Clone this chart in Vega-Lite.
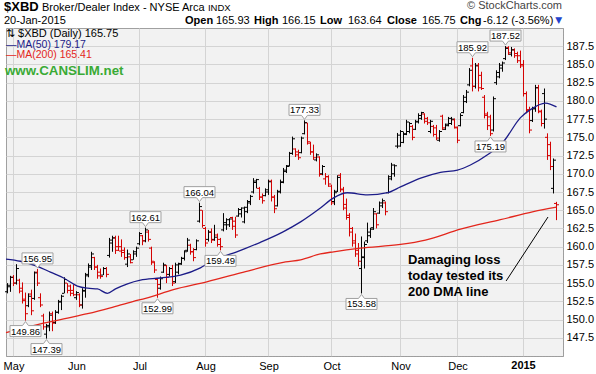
{
"$schema":"https://vega.github.io/schema/vega-lite/v6.json",
"width":557,"height":328,
"autosize":{"type":"none"},
"padding":{"left":6,"top":28,"right":33,"bottom":18},
"background":"#ffffff",
"config":{"view":{"fill":"#f2f2f2","stroke":"#a0a0a0","strokeWidth":1},"font":"Liberation Sans","axis":{"labelOverlap":false}},
"datasets":{
"bars":[
{"i":0,"o":153.8,"h":155.0,"l":153.6,"c":154.7,"d":"u"},
{"i":1,"o":154.5,"h":156.0,"l":153.8,"c":155.8,"d":"u"},
{"i":2,"o":155.8,"h":156.1,"l":154.6,"c":155.0,"d":"d"},
{"i":3,"o":155.0,"h":157.6,"l":154.8,"c":157.0,"d":"u"},
{"i":4,"o":155.4,"h":155.6,"l":153.6,"c":153.9,"d":"d"},
{"i":5,"o":154.3,"h":155.1,"l":152.2,"c":152.6,"d":"d"},
{"i":6,"o":152.8,"h":153.7,"l":149.86,"c":150.8,"d":"d"},
{"i":7,"o":151.9,"h":153.6,"l":151.7,"c":153.2,"d":"u"},
{"i":8,"o":153.5,"h":154.1,"l":150.6,"c":151.2,"d":"d"},
{"i":9,"o":152.9,"h":156.6,"l":152.7,"c":156.4,"d":"u"},
{"i":10,"o":156.5,"h":156.95,"l":154.6,"c":155.0,"d":"d"},
{"i":11,"o":153.0,"h":153.6,"l":151.7,"c":152.0,"d":"d"},
{"i":12,"o":150.5,"h":150.8,"l":148.6,"c":149.0,"d":"d"},
{"i":13,"o":148.0,"h":149.4,"l":147.39,"c":149.2,"d":"u"},
{"i":14,"o":149.0,"h":151.1,"l":148.4,"c":150.6,"d":"u"},
{"i":15,"o":150.8,"h":151.1,"l":148.4,"c":149.5,"d":"d"},
{"i":16,"o":149.6,"h":151.3,"l":149.4,"c":151.0,"d":"u"},
{"i":17,"o":151.0,"h":152.7,"l":150.8,"c":152.5,"d":"u"},
{"i":18,"o":152.4,"h":153.4,"l":151.3,"c":153.2,"d":"u"},
{"i":19,"o":153.6,"h":155.8,"l":153.6,"c":155.5,"d":"u"},
{"i":20,"o":155.0,"h":155.0,"l":153.6,"c":154.0,"d":"d"},
{"i":21,"o":154.6,"h":154.8,"l":153.2,"c":153.6,"d":"d"},
{"i":22,"o":154.0,"h":154.8,"l":153.2,"c":153.4,"d":"d"},
{"i":23,"o":153.0,"h":153.9,"l":152.7,"c":153.7,"d":"u"},
{"i":24,"o":153.4,"h":153.6,"l":151.7,"c":152.0,"d":"d"},
{"i":25,"o":152.0,"h":154.3,"l":151.5,"c":153.9,"d":"u"},
{"i":26,"o":154.0,"h":156.4,"l":153.0,"c":156.2,"d":"u"},
{"i":27,"o":156.0,"h":157.7,"l":155.8,"c":157.4,"d":"u"},
{"i":28,"o":157.2,"h":159.3,"l":156.8,"c":159.0,"d":"u"},
{"i":29,"o":158.5,"h":158.6,"l":156.8,"c":157.2,"d":"d"},
{"i":30,"o":157.2,"h":157.5,"l":155.6,"c":156.0,"d":"d"},
{"i":31,"o":156.5,"h":157.0,"l":155.6,"c":155.9,"d":"d"},
{"i":32,"o":156.1,"h":157.2,"l":156.1,"c":157.0,"d":"u"},
{"i":33,"o":157.0,"h":157.2,"l":155.8,"c":156.2,"d":"d"},
{"i":34,"o":158.8,"h":161.2,"l":158.5,"c":160.9,"d":"u"},
{"i":35,"o":160.5,"h":161.5,"l":159.3,"c":161.2,"d":"u"},
{"i":36,"o":161.2,"h":161.5,"l":159.0,"c":159.5,"d":"d"},
{"i":37,"o":160.0,"h":161.5,"l":159.4,"c":159.4,"d":"d"},
{"i":38,"o":160.0,"h":161.0,"l":158.6,"c":159.2,"d":"d"},
{"i":39,"o":159.5,"h":159.9,"l":158.2,"c":158.5,"d":"d"},
{"i":40,"o":157.6,"h":159.6,"l":157.2,"c":159.0,"d":"u"},
{"i":41,"o":158.6,"h":159.0,"l":157.7,"c":157.8,"d":"d"},
{"i":42,"o":158.2,"h":159.5,"l":158.2,"c":159.3,"d":"u"},
{"i":43,"o":159.0,"h":160.0,"l":158.6,"c":159.8,"d":"u"},
{"i":44,"o":160.4,"h":162.0,"l":160.2,"c":161.8,"d":"u"},
{"i":45,"o":161.5,"h":161.6,"l":160.2,"c":160.8,"d":"d"},
{"i":46,"o":160.8,"h":162.61,"l":160.6,"c":162.3,"d":"u"},
{"i":47,"o":162.0,"h":162.3,"l":160.7,"c":161.0,"d":"d"},
{"i":48,"o":159.8,"h":160.0,"l":157.5,"c":158.0,"d":"d"},
{"i":49,"o":157.8,"h":158.0,"l":156.4,"c":156.8,"d":"d"},
{"i":50,"o":155.5,"h":155.7,"l":152.99,"c":154.8,"d":"d"},
{"i":51,"o":154.3,"h":155.9,"l":154.1,"c":155.6,"d":"u"},
{"i":52,"o":156.5,"h":157.8,"l":156.4,"c":157.5,"d":"u"},
{"i":53,"o":157.4,"h":157.5,"l":155.0,"c":155.8,"d":"d"},
{"i":54,"o":156.2,"h":157.2,"l":155.9,"c":157.0,"d":"u"},
{"i":55,"o":157.0,"h":157.5,"l":154.6,"c":155.0,"d":"d"},
{"i":56,"o":155.2,"h":157.8,"l":155.0,"c":157.5,"d":"u"},
{"i":57,"o":156.5,"h":157.8,"l":156.2,"c":157.7,"d":"u"},
{"i":58,"o":157.6,"h":158.6,"l":157.5,"c":158.4,"d":"u"},
{"i":59,"o":158.4,"h":159.5,"l":158.1,"c":159.3,"d":"u"},
{"i":60,"o":159.5,"h":161.2,"l":159.3,"c":160.9,"d":"u"},
{"i":61,"o":160.2,"h":160.4,"l":158.9,"c":159.3,"d":"d"},
{"i":62,"o":159.3,"h":159.8,"l":158.0,"c":158.5,"d":"d"},
{"i":63,"o":159.6,"h":161.0,"l":159.5,"c":160.8,"d":"u"},
{"i":64,"o":163.5,"h":166.04,"l":163.3,"c":165.5,"d":"u"},
{"i":65,"o":165.0,"h":165.0,"l":162.6,"c":162.9,"d":"d"},
{"i":66,"o":162.5,"h":162.7,"l":160.0,"c":160.5,"d":"d"},
{"i":67,"o":161.0,"h":162.3,"l":160.7,"c":162.0,"d":"u"},
{"i":68,"o":162.0,"h":162.5,"l":160.5,"c":160.9,"d":"d"},
{"i":69,"o":161.0,"h":163.0,"l":160.8,"c":161.3,"d":"u"},
{"i":70,"o":161.6,"h":161.8,"l":160.0,"c":160.3,"d":"d"},
{"i":71,"o":161.0,"h":161.2,"l":159.49,"c":160.0,"d":"d"},
{"i":72,"o":162.3,"h":164.6,"l":162.1,"c":163.3,"d":"u"},
{"i":73,"o":163.0,"h":163.9,"l":162.3,"c":163.7,"d":"u"},
{"i":74,"o":163.0,"h":163.9,"l":162.7,"c":163.8,"d":"u"},
{"i":75,"o":164.0,"h":164.1,"l":162.3,"c":162.8,"d":"d"},
{"i":76,"o":163.5,"h":164.1,"l":161.2,"c":161.6,"d":"d"},
{"i":77,"o":164.2,"h":165.3,"l":164.1,"c":165.1,"d":"u"},
{"i":78,"o":164.5,"h":165.4,"l":164.0,"c":165.3,"d":"u"},
{"i":79,"o":163.4,"h":165.5,"l":163.2,"c":165.4,"d":"u"},
{"i":80,"o":164.8,"h":166.4,"l":164.6,"c":166.2,"d":"u"},
{"i":81,"o":166.0,"h":167.1,"l":165.7,"c":166.9,"d":"u"},
{"i":82,"o":167.5,"h":169.4,"l":167.3,"c":169.0,"d":"u"},
{"i":83,"o":168.8,"h":169.3,"l":168.0,"c":169.2,"d":"u"},
{"i":84,"o":168.0,"h":168.2,"l":166.4,"c":166.8,"d":"d"},
{"i":85,"o":166.8,"h":167.3,"l":165.9,"c":166.3,"d":"d"},
{"i":86,"o":167.0,"h":168.0,"l":166.9,"c":167.8,"d":"u"},
{"i":87,"o":167.5,"h":169.2,"l":167.1,"c":168.9,"d":"u"},
{"i":88,"o":169.0,"h":169.2,"l":166.2,"c":166.8,"d":"d"},
{"i":89,"o":166.8,"h":167.1,"l":164.6,"c":165.2,"d":"d"},
{"i":90,"o":165.6,"h":167.8,"l":165.5,"c":167.5,"d":"u"},
{"i":91,"o":167.6,"h":169.2,"l":167.3,"c":168.9,"d":"u"},
{"i":92,"o":168.8,"h":170.8,"l":168.7,"c":170.5,"d":"u"},
{"i":93,"o":170.3,"h":171.2,"l":170.1,"c":171.0,"d":"u"},
{"i":94,"o":171.1,"h":173.0,"l":171.0,"c":172.8,"d":"u"},
{"i":95,"o":172.8,"h":175.1,"l":172.6,"c":174.8,"d":"u"},
{"i":96,"o":173.4,"h":173.5,"l":172.3,"c":172.6,"d":"d"},
{"i":97,"o":173.0,"h":173.3,"l":171.9,"c":172.2,"d":"d"},
{"i":98,"o":172.9,"h":175.1,"l":172.8,"c":174.9,"d":"u"},
{"i":99,"o":175.5,"h":177.33,"l":175.4,"c":177.0,"d":"u"},
{"i":100,"o":177.0,"h":177.0,"l":174.0,"c":174.4,"d":"d"},
{"i":101,"o":174.2,"h":174.4,"l":172.6,"c":173.0,"d":"d"},
{"i":102,"o":173.0,"h":174.0,"l":171.9,"c":172.2,"d":"d"},
{"i":103,"o":171.9,"h":172.8,"l":171.7,"c":172.6,"d":"u"},
{"i":104,"o":172.3,"h":172.4,"l":169.6,"c":169.9,"d":"d"},
{"i":105,"o":170.0,"h":171.2,"l":169.8,"c":171.0,"d":"u"},
{"i":106,"o":169.3,"h":170.1,"l":168.5,"c":169.6,"d":"d"},
{"i":107,"o":169.6,"h":169.8,"l":168.2,"c":168.6,"d":"d"},
{"i":108,"o":168.3,"h":168.5,"l":165.7,"c":166.0,"d":"d"},
{"i":109,"o":166.2,"h":167.8,"l":165.7,"c":167.4,"d":"u"},
{"i":110,"o":167.6,"h":169.8,"l":167.5,"c":169.5,"d":"u"},
{"i":111,"o":169.8,"h":170.1,"l":167.5,"c":167.9,"d":"d"},
{"i":112,"o":167.8,"h":168.2,"l":165.0,"c":165.3,"d":"d"},
{"i":113,"o":165.8,"h":166.6,"l":163.7,"c":164.0,"d":"d"},
{"i":114,"o":164.3,"h":164.6,"l":161.4,"c":162.0,"d":"d"},
{"i":115,"o":162.5,"h":162.7,"l":160.0,"c":160.5,"d":"d"},
{"i":116,"o":160.8,"h":161.8,"l":158.6,"c":159.0,"d":"d"},
{"i":117,"o":159.5,"h":160.5,"l":157.3,"c":158.0,"d":"d"},
{"i":118,"o":157.0,"h":161.4,"l":153.58,"c":158.6,"d":"u"},
{"i":119,"o":158.5,"h":160.7,"l":157.0,"c":160.3,"d":"u"},
{"i":120,"o":160.8,"h":163.3,"l":160.5,"c":162.0,"d":"u"},
{"i":121,"o":161.5,"h":162.6,"l":161.2,"c":162.4,"d":"u"},
{"i":122,"o":162.6,"h":165.3,"l":162.3,"c":164.8,"d":"u"},
{"i":123,"o":164.5,"h":164.6,"l":162.5,"c":163.0,"d":"d"},
{"i":124,"o":164.6,"h":166.2,"l":164.5,"c":166.0,"d":"u"},
{"i":125,"o":165.6,"h":166.6,"l":165.3,"c":166.3,"d":"u"},
{"i":126,"o":166.0,"h":166.2,"l":164.3,"c":164.8,"d":"d"},
{"i":127,"o":167.4,"h":169.8,"l":167.3,"c":169.6,"d":"u"},
{"i":128,"o":169.3,"h":171.5,"l":169.1,"c":171.2,"d":"u"},
{"i":129,"o":170.0,"h":171.3,"l":169.6,"c":171.1,"d":"u"},
{"i":130,"o":173.8,"h":175.6,"l":173.5,"c":175.3,"d":"u"},
{"i":131,"o":173.8,"h":176.0,"l":173.7,"c":175.8,"d":"u"},
{"i":132,"o":174.3,"h":175.8,"l":174.2,"c":175.5,"d":"u"},
{"i":133,"o":175.4,"h":177.4,"l":175.3,"c":177.1,"d":"u"},
{"i":134,"o":175.8,"h":177.1,"l":175.55,"c":176.9,"d":"u"},
{"i":135,"o":176.5,"h":176.7,"l":174.6,"c":175.0,"d":"d"},
{"i":136,"o":176.1,"h":177.4,"l":176.0,"c":177.2,"d":"u"},
{"i":137,"o":177.1,"h":178.3,"l":176.9,"c":178.0,"d":"u"},
{"i":138,"o":177.6,"h":178.5,"l":177.4,"c":178.4,"d":"u"},
{"i":139,"o":178.2,"h":178.3,"l":176.9,"c":177.2,"d":"d"},
{"i":140,"o":177.6,"h":177.8,"l":176.7,"c":177.0,"d":"d"},
{"i":141,"o":175.8,"h":177.4,"l":175.55,"c":177.2,"d":"u"},
{"i":142,"o":176.5,"h":176.7,"l":175.1,"c":175.4,"d":"d"},
{"i":143,"o":176.3,"h":176.7,"l":174.6,"c":174.9,"d":"d"},
{"i":144,"o":174.6,"h":176.0,"l":174.4,"c":175.8,"d":"u"},
{"i":145,"o":177.9,"h":178.1,"l":176.0,"c":176.3,"d":"d"},
{"i":146,"o":176.1,"h":176.9,"l":176.0,"c":176.8,"d":"u"},
{"i":147,"o":176.6,"h":177.8,"l":176.5,"c":177.6,"d":"u"},
{"i":148,"o":176.9,"h":177.8,"l":176.7,"c":177.5,"d":"u"},
{"i":149,"o":177.4,"h":177.6,"l":176.2,"c":176.4,"d":"d"},
{"i":150,"o":176.3,"h":176.5,"l":174.2,"c":174.6,"d":"d"},
{"i":151,"o":176.6,"h":178.3,"l":176.5,"c":178.0,"d":"u"},
{"i":152,"o":178.4,"h":180.8,"l":178.3,"c":180.5,"d":"u"},
{"i":153,"o":179.9,"h":181.5,"l":179.7,"c":181.2,"d":"u"},
{"i":154,"o":182.2,"h":184.5,"l":182.0,"c":184.2,"d":"u"},
{"i":155,"o":184.8,"h":185.92,"l":181.3,"c":182.0,"d":"d"},
{"i":156,"o":182.0,"h":185.2,"l":181.7,"c":184.8,"d":"u"},
{"i":157,"o":184.9,"h":185.2,"l":181.3,"c":181.8,"d":"d"},
{"i":158,"o":183.5,"h":184.0,"l":181.5,"c":181.7,"d":"d"},
{"i":159,"o":180.5,"h":180.8,"l":177.6,"c":178.0,"d":"d"},
{"i":160,"o":178.2,"h":178.5,"l":176.0,"c":176.6,"d":"d"},
{"i":161,"o":177.8,"h":178.1,"l":175.19,"c":175.5,"d":"d"},
{"i":162,"o":176.0,"h":180.6,"l":175.8,"c":180.3,"d":"u"},
{"i":163,"o":182.5,"h":184.2,"l":182.2,"c":183.9,"d":"u"},
{"i":164,"o":183.3,"h":185.2,"l":183.1,"c":184.9,"d":"u"},
{"i":165,"o":184.5,"h":185.4,"l":184.0,"c":185.2,"d":"u"},
{"i":166,"o":185.8,"h":187.52,"l":185.6,"c":187.2,"d":"u"},
{"i":167,"o":187.3,"h":187.5,"l":186.3,"c":186.6,"d":"d"},
{"i":168,"o":186.4,"h":187.4,"l":186.1,"c":187.0,"d":"u"},
{"i":169,"o":187.0,"h":187.2,"l":185.9,"c":186.2,"d":"d"},
{"i":170,"o":186.5,"h":186.75,"l":185.2,"c":185.5,"d":"d"},
{"i":171,"o":186.2,"h":186.9,"l":184.5,"c":184.8,"d":"d"},
{"i":172,"o":185.0,"h":185.6,"l":180.6,"c":181.0,"d":"d"},
{"i":173,"o":181.0,"h":181.3,"l":178.3,"c":178.7,"d":"d"},
{"i":174,"o":178.8,"h":179.2,"l":175.55,"c":176.0,"d":"d"},
{"i":175,"o":177.3,"h":179.2,"l":177.1,"c":178.9,"d":"u"},
{"i":176,"o":179.0,"h":182.2,"l":178.5,"c":181.8,"d":"u"},
{"i":177,"o":181.8,"h":182.2,"l":178.3,"c":178.6,"d":"d"},
{"i":178,"o":178.5,"h":178.8,"l":176.5,"c":176.9,"d":"d"},
{"i":179,"o":181.0,"h":181.7,"l":176.2,"c":177.5,"d":"u"},
{"i":180,"o":175.0,"h":175.55,"l":171.9,"c":172.5,"d":"d"},
{"i":181,"o":174.0,"h":174.4,"l":170.5,"c":171.0,"d":"d"},
{"i":182,"o":168.0,"h":172.1,"l":167.3,"c":171.87,"d":"u"},
{"i":183,"o":165.93,"h":166.15,"l":163.64,"c":165.75,"d":"d"}
],
"ma50":[
{"i":-0.5,"v":158.3},{"i":4.3,"v":158.0},{"i":10,"v":157.3},{"i":14.3,"v":156.5},{"i":18.7,"v":155.7},{"i":23.3,"v":154.6},{"i":26.7,"v":154.3},{"i":30,"v":154.2},{"i":33.3,"v":153.6},{"i":36,"v":154.2},{"i":40,"v":154.9},{"i":44.3,"v":155.4},{"i":51,"v":155.7},{"i":57.7,"v":156.1},{"i":64.3,"v":157.1},{"i":67.7,"v":157.9},{"i":77.7,"v":159.5},{"i":84.3,"v":160.6},{"i":91.7,"v":162.0},{"i":97.7,"v":163.4},{"i":104.3,"v":165.3},{"i":108.7,"v":166.7},{"i":113.3,"v":167.4},{"i":120,"v":167.1},{"i":126.7,"v":167.4},{"i":131,"v":168.2},{"i":137.7,"v":169.4},{"i":144.3,"v":170.2},{"i":150,"v":170.5},{"i":154.3,"v":171.2},{"i":160,"v":172.6},{"i":165.3,"v":174.4},{"i":171,"v":177.7},{"i":174.3,"v":178.8},{"i":179.3,"v":179.7},{"i":183,"v":179.17}
],
"ma200":[
{"i":-0.5,"v":148.2},{"i":12,"v":149.5},{"i":20,"v":150.2},{"i":26.7,"v":150.8},{"i":34.3,"v":151.6},{"i":42,"v":152.5},{"i":46,"v":152.9},{"i":55.3,"v":154.1},{"i":66.7,"v":155.2},{"i":77.7,"v":156.4},{"i":92.7,"v":157.9},{"i":97.7,"v":158.2},{"i":104.3,"v":159.0},{"i":108.7,"v":159.3},{"i":117.7,"v":159.8},{"i":131,"v":160.3},{"i":139.3,"v":160.9},{"i":151,"v":162.4},{"i":164.3,"v":163.7},{"i":175.3,"v":164.8},{"i":183,"v":165.41}
],
"lab":[
{"i":6,"v":149.86,"k":"l"},{"i":13,"v":147.39,"k":"l"},{"i":10,"v":156.95,"k":"h"},{"i":46,"v":162.61,"k":"h"},{"i":50,"v":152.99,"k":"l"},{"i":64,"v":166.04,"k":"h"},{"i":71,"v":159.49,"k":"l"},{"i":99,"v":177.33,"k":"h"},{"i":118,"v":153.58,"k":"l"},{"i":155,"v":185.92,"k":"h"},{"i":161,"v":175.19,"k":"l"},{"i":166,"v":187.52,"k":"h"}
],
"dma":[{"i":166.2,"v":155.29},{"i":180.17,"v":164.07}]
},
"layer":[
{"data":{"name":"bars"},"mark":{"type":"rule","strokeWidth":1},
 "encoding":{
  "x":{"field":"i","type":"quantitative","scale":{"domain":[-0.5,185.1667],"nice":false,"zero":false},
   "axis":{"values":[2,23,44,66,87,108,131,150,172],"tickCount":20,"labelExpr":"datum.value==2?'May':datum.value==23?'Jun':datum.value==44?'Jul':datum.value==66?'Aug':datum.value==87?'Sep':datum.value==108?'Oct':datum.value==131?'Nov':datum.value==150?'Dec':''","title":null,"grid":true,"gridColor":"#d4d4d4","domainColor":"#9a9a9a","domainDash":[1,2],"ticks":false,"labelPadding":4,"labelFontSize":11,"labelFont":"Liberation Sans","labelColor":"#000000","labelOverlap":false,"labelFlush":false}},
  "y":{"field":"l","type":"quantitative","scale":{"domain":[145,190],"nice":false,"zero":false},
  "axis":{"orient":"right","values":[147.5,150,152.5,155,157.5,160,162.5,165,167.5,170,172.5,175,177.5,180,182.5,185,187.5],"tickCount":20,"format":".1f","title":null,"grid":true,"gridColor":"#d4d4d4","domainColor":"#9a9a9a","domainDash":[1,2],"ticks":false,"labelPadding":3,"labelFontSize":11,"labelFont":"Liberation Sans","labelColor":"#000000","labelOverlap":false,"labelFlush":false}},
  "y2":{"field":"h"},
  "color":{"field":"d","type":"nominal","scale":{"domain":["u","d"],"range":["#000000","#d40000"]},"legend":null}}},
{"data":{"name":"bars"},"mark":{"type":"tick","orient":"horizontal","size":2,"thickness":1,"xOffset":-1.5,"opacity":1},
 "encoding":{"x":{"field":"i","type":"quantitative"},"y":{"field":"o","type":"quantitative"},
  "color":{"field":"d","type":"nominal","scale":{"domain":["u","d"],"range":["#000000","#d40000"]},"legend":null}}},
{"data":{"name":"bars"},"mark":{"type":"tick","orient":"horizontal","size":2,"thickness":1,"xOffset":1.5,"opacity":1},
 "encoding":{"x":{"field":"i","type":"quantitative"},"y":{"field":"c","type":"quantitative"},
  "color":{"field":"d","type":"nominal","scale":{"domain":["u","d"],"range":["#000000","#d40000"]},"legend":null}}},
{"data":{"name":"ma200"},"mark":{"type":"line","color":"#e3261c","strokeWidth":1.3,"interpolate":"monotone"},
 "encoding":{"x":{"field":"i","type":"quantitative"},"y":{"field":"v","type":"quantitative"}}},
{"data":{"name":"ma50"},"mark":{"type":"line","color":"#1c1c88","strokeWidth":1.3,"interpolate":"monotone"},
 "encoding":{"x":{"field":"i","type":"quantitative"},"y":{"field":"v","type":"quantitative"}}},
{"data":{"name":"dma"},"mark":{"type":"line","color":"#000000","strokeWidth":1},
 "encoding":{"x":{"field":"i","type":"quantitative"},"y":{"field":"v","type":"quantitative"}}},
{"data":{"name":"lab"},"transform":[{"filter":"datum.k=='h'"}],
 "mark":{"type":"point","shape":"M-1.033,-0.367L1.033,-0.367L1.033,0.367L0.2,0.367L0,0.633L-0.2,0.367L-1.033,0.367Z","size":900,"fill":"#ffffff","stroke":"#a0a0a0","strokeWidth":1,"opacity":1,"fillOpacity":1,"yOffset":-10.5},
 "encoding":{"x":{"field":"i","type":"quantitative"},"y":{"field":"v","type":"quantitative"}}},
{"data":{"name":"lab"},"transform":[{"filter":"datum.k=='l'"}],
 "mark":{"type":"point","shape":"M-1.033,0.367L1.033,0.367L1.033,-0.367L0.2,-0.367L0,-0.633L-0.2,-0.367L-1.033,-0.367Z","size":900,"fill":"#ffffff","stroke":"#a0a0a0","strokeWidth":1,"opacity":1,"fillOpacity":1,"yOffset":10.5},
 "encoding":{"x":{"field":"i","type":"quantitative"},"y":{"field":"v","type":"quantitative"}}},
{"data":{"name":"lab"},"transform":[{"filter":"datum.k=='h'"}],
 "mark":{"type":"text","fontSize":9.5,"font":"Liberation Sans","color":"#000000","baseline":"middle","align":"center","yOffset":-10},
 "encoding":{"x":{"field":"i","type":"quantitative"},"y":{"field":"v","type":"quantitative"},"text":{"field":"v","type":"quantitative","format":".2f"}}},
{"data":{"name":"lab"},"transform":[{"filter":"datum.k=='l'"}],
 "mark":{"type":"text","fontSize":9.5,"font":"Liberation Sans","color":"#000000","baseline":"middle","align":"center","yOffset":11},
 "encoding":{"x":{"field":"i","type":"quantitative"},"y":{"field":"v","type":"quantitative"},"text":{"field":"v","type":"quantitative","format":".2f"}}},
{"data":{"values":[{}]},"mark":{"type":"text","text":"2015","fontSize":11,"fontWeight":"bold","align":"center","baseline":"top","color":"#000000"},
 "encoding":{"x":{"datum":172,"type":"quantitative"},"y":{"datum":144.45,"type":"quantitative"}}},
{"data":{"values":[{}]},"mark":{"type":"text","text":"Damaging loss\ntoday tested its\n200 DMA line","lineBreak":"\n","lineHeight":16,"fontSize":13,"fontWeight":"bold","font":"Liberation Sans","align":"left","baseline":"top","color":"#000000"},
 "encoding":{"x":{"datum":133.5,"type":"quantitative"},"y":{"datum":159.0,"type":"quantitative"}}},
{"data":{"values":[{}]},"mark":{"type":"text","text":"$XBD","fontSize":13,"fontWeight":"bold","align":"left","baseline":"alphabetic","color":"#000000"},
 "encoding":{"x":{"datum":-1.17,"type":"quantitative"},"y":{"datum":192.33,"type":"quantitative"}}},
{"data":{"values":[{}]},"mark":{"type":"text","text":"Broker/Dealer Index - NYSE Arca","fontSize":11,"align":"left","baseline":"alphabetic","color":"#000000"},
 "encoding":{"x":{"datum":11.5,"type":"quantitative"},"y":{"datum":192.4,"type":"quantitative"}}},
{"data":{"values":[{}]},"mark":{"type":"text","text":"INDX","fontSize":9.5,"align":"left","baseline":"alphabetic","color":"#000000"},
 "encoding":{"x":{"datum":66.8,"type":"quantitative"},"y":{"datum":192.4,"type":"quantitative"}}},
{"data":{"values":[{}]},"mark":{"type":"text","text":"© StockCharts.com","fontSize":11,"align":"right","baseline":"alphabetic","color":"#444444"},
 "encoding":{"x":{"datum":184.83,"type":"quantitative"},"y":{"datum":192.6,"type":"quantitative"}}},
{"data":{"values":[{}]},"mark":{"type":"text","text":"20-Jan-2015","fontSize":11,"align":"left","baseline":"alphabetic","color":"#000000"},
 "encoding":{"x":{"datum":-1.17,"type":"quantitative"},"y":{"datum":190.55,"type":"quantitative"}}},
{"data":{"values":[{}]},"mark":{"type":"text","text":"Open","fontSize":11,"fontWeight":"bold","align":"left","baseline":"alphabetic","color":"#000000"},
 "encoding":{"x":{"datum":59.17,"type":"quantitative"},"y":{"datum":190.55,"type":"quantitative"}}},
{"data":{"values":[{}]},"mark":{"type":"text","text":"165.93","fontSize":11,"align":"left","baseline":"alphabetic","color":"#000000"},
 "encoding":{"x":{"datum":69.5,"type":"quantitative"},"y":{"datum":190.55,"type":"quantitative"}}},
{"data":{"values":[{}]},"mark":{"type":"text","text":"High","fontSize":11,"fontWeight":"bold","align":"left","baseline":"alphabetic","color":"#000000"},
 "encoding":{"x":{"datum":82.17,"type":"quantitative"},"y":{"datum":190.55,"type":"quantitative"}}},
{"data":{"values":[{}]},"mark":{"type":"text","text":"166.15","fontSize":11,"align":"left","baseline":"alphabetic","color":"#000000"},
 "encoding":{"x":{"datum":91.5,"type":"quantitative"},"y":{"datum":190.55,"type":"quantitative"}}},
{"data":{"values":[{}]},"mark":{"type":"text","text":"Low","fontSize":11,"fontWeight":"bold","align":"left","baseline":"alphabetic","color":"#000000"},
 "encoding":{"x":{"datum":104.17,"type":"quantitative"},"y":{"datum":190.55,"type":"quantitative"}}},
{"data":{"values":[{}]},"mark":{"type":"text","text":"163.64","fontSize":11,"align":"left","baseline":"alphabetic","color":"#000000"},
 "encoding":{"x":{"datum":113.5,"type":"quantitative"},"y":{"datum":190.55,"type":"quantitative"}}},
{"data":{"values":[{}]},"mark":{"type":"text","text":"Close","fontSize":11,"fontWeight":"bold","align":"left","baseline":"alphabetic","color":"#000000"},
 "encoding":{"x":{"datum":126.5,"type":"quantitative"},"y":{"datum":190.55,"type":"quantitative"}}},
{"data":{"values":[{}]},"mark":{"type":"text","text":"165.75","fontSize":11,"align":"left","baseline":"alphabetic","color":"#000000"},
 "encoding":{"x":{"datum":138.17,"type":"quantitative"},"y":{"datum":190.55,"type":"quantitative"}}},
{"data":{"values":[{}]},"mark":{"type":"text","text":"Chg","fontSize":11,"fontWeight":"bold","align":"left","baseline":"alphabetic","color":"#000000"},
 "encoding":{"x":{"datum":150.83,"type":"quantitative"},"y":{"datum":190.55,"type":"quantitative"}}},
{"data":{"values":[{}]},"mark":{"type":"text","text":"-6.12 (-3.56%)","fontSize":11,"align":"left","baseline":"alphabetic","color":"#000000"},
 "encoding":{"x":{"datum":158.5,"type":"quantitative"},"y":{"datum":190.55,"type":"quantitative"}}},
{"data":{"values":[{}]},"mark":{"type":"text","text":"▼","fontSize":9,"font":"DejaVu Sans","align":"left","baseline":"alphabetic","color":"#2244cc"},
 "encoding":{"x":{"datum":182.6,"type":"quantitative"},"y":{"datum":190.62,"type":"quantitative"}}},
{"data":{"values":[{}]},"mark":{"type":"text","text":"⇅ $XBD (Daily) 165.75","fontSize":11,"align":"left","baseline":"alphabetic","color":"#000000"},
 "encoding":{"x":{"datum":-0.5,"type":"quantitative"},"y":{"datum":188.8,"type":"quantitative"}}},
{"data":{"values":[{}]},"mark":{"type":"text","text":"—MA(50) 179.17","fontSize":10.5,"align":"left","baseline":"alphabetic","color":"#1c1c88"},
 "encoding":{"x":{"datum":-0.5,"type":"quantitative"},"y":{"datum":187.32,"type":"quantitative"}}},
{"data":{"values":[{}]},"mark":{"type":"text","text":"—MA(200) 165.41","fontSize":10.5,"align":"left","baseline":"alphabetic","color":"#e3261c"},
 "encoding":{"x":{"datum":-0.5,"type":"quantitative"},"y":{"datum":185.88,"type":"quantitative"}}},
{"data":{"values":[{}]},"mark":{"type":"text","text":"www.CANSLIM.net","fontSize":13.3,"fontWeight":"bold","align":"left","baseline":"alphabetic","color":"#3aaa35"},
 "encoding":{"x":{"datum":-0.83,"type":"quantitative"},"y":{"datum":183.55,"type":"quantitative"}}}
]
}
